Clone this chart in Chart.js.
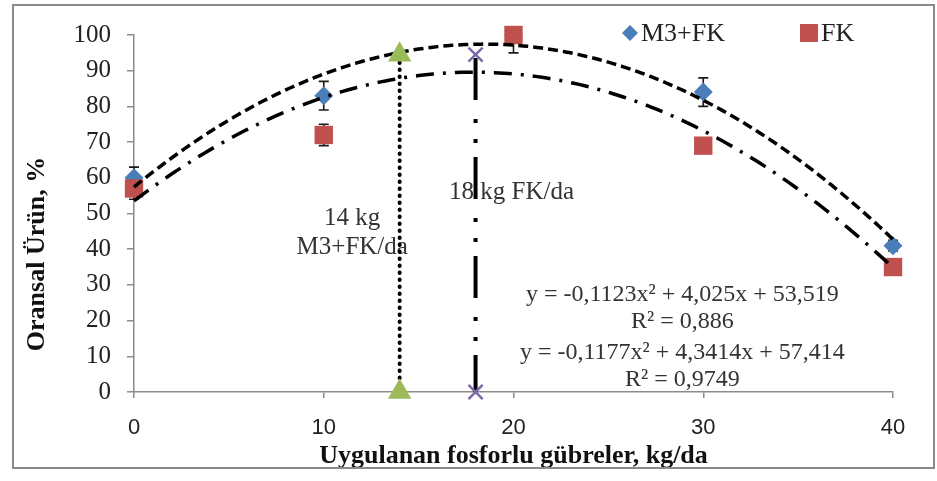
<!DOCTYPE html>
<html lang="tr">
<head>
<meta charset="UTF-8">
<title>Oransal Ürün</title>
<style>
  body { margin: 0; background: #fff; }
  #chart-container { position: relative; width: 937px; height: 481px; }
</style>
<script src="https://cdn.jsdelivr.net/npm/chart.js@4.4.1/dist/chart.umd.min.js"></script>
</head>
<body>
<div id="chart-container">
  <canvas id="verimChart"></canvas>
</div>
<script>
// veriler
const xValues = [0, 10, 20, 30, 40];
const m3fkValues = [60, 83, 100, 84, 41];
const fkValues = [57, 72, 100, 69, 35];
const m3fkErr = [3, 4, 0, 4, 1.5];
const fkErr = [3, 3, 5, 2, 1];

// trend katsayilari: c0 + c1*x + c2*x^2 (grafikteki denklemler)
const fkTrend = [53.519, 4.025, -0.1123];
const m3fkTrend = [57.414, 4.3414, -0.1177];

// optimum dikey cizgiler
const m3OptX = [14, 14];
const m3OptY = [0, 94.5];
const fkOptX = [18, 18];
const fkOptY = [0, 94.5];

const eqLines = ['y = -0,1123x² + 4,025x + 53,519', 'R² = 0,886', 'y = -0,1177x² + 4,3414x + 57,414', 'R² = 0,9749'];
const eqX = [28.9, 28.9, 28.9, 28.9];
const eqY = [27.2, 19.6, 10.9, 3.4];
const notes = ['14 kg', 'M3+FK/da', '18 kg FK/da'];
const noteX = [11.5, 11.5, 19.9];
const noteY = [48.7, 40.6, 56.0];

const serif = '"Liberation Serif", "Times New Roman", serif';

function pts(xs, ys) {
  return xs.map((x, i) => ({ x: x, y: ys[i] }));
}

const errorBars = {
  id: 'errorBars',
  beforeDatasetsDraw(chart) {
    const ctx = chart.ctx, xs = chart.scales.x, ys = chart.scales.y, a = chart.chartArea;
    ctx.save();
    ctx.beginPath();
    ctx.rect(a.left - 20, a.top, a.right - a.left + 40, a.bottom - a.top);
    ctx.clip();
    ctx.strokeStyle = '#1a1a1a';
    ctx.lineWidth = 1.6;
    [[m3fkValues, m3fkErr], [fkValues, fkErr]].forEach(([vals, errs]) => {
      vals.forEach((v, i) => {
        if (!errs[i]) return;
        const px = xs.getPixelForValue(xValues[i]);
        const y1 = ys.getPixelForValue(v - errs[i]);
        const y2 = ys.getPixelForValue(v + errs[i]);
        ctx.beginPath();
        ctx.moveTo(px, y1); ctx.lineTo(px, y2);
        ctx.moveTo(px - 5, y1); ctx.lineTo(px + 5, y1);
        ctx.moveTo(px - 5, y2); ctx.lineTo(px + 5, y2);
        ctx.stroke();
      });
    });
    ctx.restore();
  }
};

const trendLines = {
  id: 'trendLines',
  afterDatasetDraw(chart, args) {
    if (args.index !== 1) return;
    const ctx = chart.ctx, xs = chart.scales.x, ys = chart.scales.y;
    const draw = (c, dash) => {
      ctx.save();
      ctx.strokeStyle = '#000';
      ctx.lineWidth = 3.5;
      ctx.setLineDash(dash);
      ctx.beginPath();
      for (let x = 0; x <= 40; x += 0.25) {
        const y = c[0] + c[1] * x + c[2] * x * x;
        const px = xs.getPixelForValue(x), py = ys.getPixelForValue(y);
        if (x === 0) ctx.moveTo(px, py); else ctx.lineTo(px, py);
      }
      ctx.stroke();
      ctx.restore();
    };
    draw(m3fkTrend, [10, 5]);
    draw(fkTrend, [18, 9, 3, 9]);
  }
};

const textsAndFrame = {
  id: 'textsAndFrame',
  beforeDatasetsDraw(chart) {
    const ctx = chart.ctx, xs = chart.scales.x, ys = chart.scales.y;
    ctx.save();
    ctx.textAlign = 'center';
    ctx.textBaseline = 'middle';
    ctx.fillStyle = '#333';
    ctx.font = '25px ' + serif;
    notes.forEach((t, i) => ctx.fillText(t, xs.getPixelForValue(noteX[i]), ys.getPixelForValue(noteY[i])));
    ctx.font = '24px ' + serif;
    eqLines.forEach((t, i) => ctx.fillText(t, xs.getPixelForValue(eqX[i]), ys.getPixelForValue(eqY[i])));
    ctx.restore();
  },
  afterDraw(chart) {
    const ctx = chart.ctx, a = chart.chartArea;
    ctx.save();
    // cerceve
    ctx.strokeStyle = '#8a8a8a';
    ctx.lineWidth = 2;
    ctx.strokeRect(13, 5, 921, 463);
    // y ekseni basligi
    ctx.fillStyle = '#111';
    ctx.font = 'bold 26px ' + serif;
    ctx.textAlign = 'center';
    ctx.textBaseline = 'middle';
    ctx.translate(37, 254);
    ctx.rotate(-Math.PI / 2);
    ctx.fillText('Oransal Ürün, %', 0, 0);
    ctx.restore();
    // lejant
    ctx.save();
    ctx.font = '26px ' + serif;
    ctx.textBaseline = 'middle';
    const ly = a.top - 2;
    ctx.fillStyle = '#4a7ebb';
    ctx.beginPath();
    ctx.moveTo(622, ly); ctx.lineTo(630, ly - 8); ctx.lineTo(638, ly); ctx.lineTo(630, ly + 8);
    ctx.closePath(); ctx.fill();
    ctx.fillStyle = '#222';
    ctx.fillText('M3+FK', 641, ly + 1);
    ctx.fillStyle = '#c0504d';
    ctx.fillRect(800, ly - 9, 18, 18);
    ctx.fillStyle = '#222';
    ctx.fillText('FK', 821, ly + 1);
    ctx.restore();
  }
};

const ctx = document.getElementById('verimChart').getContext('2d');
new Chart(ctx, {
  type: 'scatter',
  data: {
    datasets: [
      {
        label: 'M3+FK',
        data: pts(xValues, m3fkValues),
        pointStyle: 'rectRot',
        pointRadius: 9.5,
        backgroundColor: '#4a7ebb',
        borderColor: '#4a7ebb',
        borderWidth: 0,
        showLine: false,
        clip: false,
        order: 1
      },
      {
        label: 'FK',
        data: pts(xValues, fkValues),
        pointStyle: 'rect',
        pointRadius: 13,
        backgroundColor: '#c0504d',
        borderColor: '#c0504d',
        borderWidth: 0,
        showLine: false,
        clip: false,
        order: 0
      },
      {
        label: '14 kg',
        data: pts(m3OptX, m3OptY),
        showLine: true,
        borderColor: '#000',
        borderWidth: 4,
        borderDash: [0.5, 6.5],
        borderCapStyle: 'round',
        pointStyle: 'triangle',
        pointRadius: 9.5,
        pointBackgroundColor: '#9bbb59',
        pointBorderColor: '#9bbb59',
        clip: false,
        order: -1
      },
      {
        label: '18 kg',
        data: pts(fkOptX, fkOptY),
        showLine: true,
        borderColor: '#000',
        borderWidth: 4,
        borderDash: [42, 14, 4, 16, 4, 19],
        borderDashOffset: 5,
        pointStyle: 'crossRot',
        pointRadius: 10,
        pointBorderColor: '#7a68a6',
        pointBorderWidth: 2.5,
        clip: false,
        order: -1
      }
    ]
  },
  options: {
    responsive: true,
    maintainAspectRatio: false,
    animation: false,
    layout: { padding: { left: 14, right: 44, top: 35, bottom: 0 } },
    plugins: {
      legend: { display: false },
      tooltip: { enabled: false }
    },
    scales: {
      x: {
        type: 'linear',
        min: 0,
        max: 40,
        afterFit: (s) => { s.height = 89; },
        ticks: {
          stepSize: 10,
          padding: 17,
          color: '#222',
          font: { family: '"Liberation Sans", Arial, sans-serif', size: 22 }
        },
        grid: { drawOnChartArea: false, drawTicks: true, tickLength: 6, color: '#8c8c8c', lineWidth: 1.5 },
        border: { color: '#8c8c8c', width: 1.5 },
        title: {
          display: true,
          text: 'Uygulanan fosforlu gübreler, kg/da',
          color: '#111',
          font: { family: serif, size: 26, weight: 'bold' },
          padding: { top: 0, bottom: 9 }
        }
      },
      y: {
        min: 0,
        max: 100,
        afterFit: (s) => { s.width = 120; },
        ticks: {
          stepSize: 10,
          padding: 16,
          color: '#222',
          font: { family: serif, size: 25 }
        },
        grid: { drawOnChartArea: false, drawTicks: true, tickLength: 7, color: '#8c8c8c', lineWidth: 1.5 },
        border: { color: '#8c8c8c', width: 1.5 }
      }
    }
  },
  plugins: [errorBars, trendLines, textsAndFrame]
});
</script>
</body>
</html>
